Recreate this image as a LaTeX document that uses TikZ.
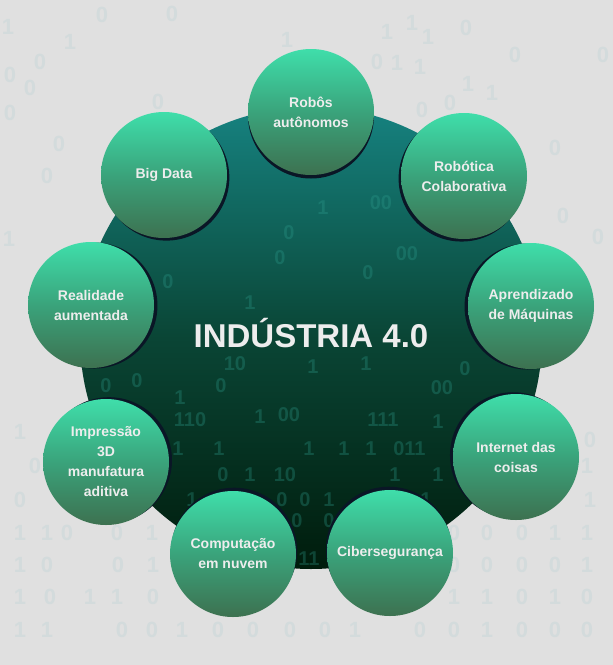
\documentclass[tikz,border=0pt]{standalone}
\usepackage{fontspec}
\setmainfont{Liberation Sans}
\usetikzlibrary{calc}
\definecolor{bg}{HTML}{E0E0E0}
\definecolor{bgdigit}{HTML}{D3DBDC}
\definecolor{hubtop}{HTML}{168280}
\definecolor{hubmid}{HTML}{0A4535}
\definecolor{hubbot}{HTML}{001C0C}
\definecolor{hubdigit}{HTML}{2FA090}
\definecolor{bubtop}{HTML}{3FDEAA}
\definecolor{bubmid}{HTML}{3AA37B}
\definecolor{bubbot}{HTML}{3D7150}
\definecolor{shad}{HTML}{0A1626}
\definecolor{txt}{HTML}{EDEDED}
\begin{document}
\begin{tikzpicture}[x=1pt,y=-1pt,
  bubble/.style={circle, minimum size=126pt, inner sep=0pt, top color=bubtop,
    bottom color=bubbot, middle color=bubmid, text=txt, align=center,
    font=\bfseries\fontsize{14}{20}\selectfont},
  hub/.style={circle, minimum size=462pt, inner sep=0pt, top color=hubtop,
    bottom color=hubbot, middle color=hubmid},
  bgd/.style={inner sep=0pt, text=bgdigit, font=\bfseries\fontsize{22}{22}\selectfont},
  hubd/.style={inner sep=0pt, text=hubdigit, text opacity=0.3, font=\bfseries\fontsize{20}{20}\selectfont},
  title/.style={inner sep=0pt, text=txt, font=\bfseries\fontsize{33}{40}\selectfont},
  shadowfill/.style={fill=shad}]
\path[use as bounding box, fill=bg] (0,0) rectangle (613,665);
% faint background digits
\foreach \d/\x/\y [count=\i] in {1/8/27,0/102/15,0/172/14,1/70/42,0/40/62,0/10/75,0/30/88,
  1/287/40,1/387/32,1/412/23,1/428/37,0/466/28,0/377/62,1/397/63,1/420/67,1/323/68,
  0/358/92,0/450/103,1/468/84,0/515/55,1/492/93,0/422/110,0/158/102,0/10/113,
  0/47/176,0/59/144,1/9/239,0/598/237,0/563/216,0/555/148,0/603/55,
  0/35/466,1/20/432,0/20/500,0/590/440,1/587/466,1/590/500,
  1/20/533,1/47/533,0/67/533,0/117/533,1/152/533,0/454/533,0/487/533,0/522/533,1/555/533,1/587/533,
  1/20/565,0/47/565,0/118/565,1/153/565,0/454/565,0/487/565,0/522/565,0/555/565,1/587/565,
  1/20/597,0/50/597,1/90/597,1/117/597,0/153/597,1/454/597,1/487/597,0/522/597,1/555/597,0/587/597,
  1/20/630,1/47/630,0/122/630,0/152/630,1/182/630,0/218/630,0/253/630,0/290/630,0/325/630,1/355/630,
  0/420/630,0/454/630,1/487/630,0/522/630,0/555/630,0/587/630}
  \node[bgd] (g\i) at (\x,\y) {\d};
% central hub
\node[hub] (O) at (311,338) {};
\foreach \d/\x/\y [count=\i] in {0/289/233,0/280/258,1/323/208,00/381/203,0/368/273,00/407/254,
  1/250/303,0/168/282,10/235/364,1/313/367,1/366/364,0/465/369,00/442/388,0/221/386,
  0/137/381,0/106/386,1/180/398,110/190/420,1/260/417,00/289/415,111/383/420,1/438/422,
  1/178/449,1/219/449,1/309/449,1/344/449,1/371/449,0/399/449,11/415/449,
  0/223/475,1/250/475,10/285/475,1/395/475,1/438/475,
  1/192/500,0/282/500,0/305/500,1/329/500,1/426/500,0/297/521,0/329/521,11/309/559}
  \node[hubd] (h\i) at (\x,\y) {\d};
\node[title] (t) at (311,333) {INDÚSTRIA 4.0};
% bubbles
\foreach \n/\x/\y/\t in {1/311/112/{Robôs\\autônomos},
  2/464/176/{Robótica\\Colaborativa},
  3/531/306/{Aprendizado\\de Máquinas},
  4/516/457/{Internet das\\coisas},
  5/390/553/{Cibersegurança},
  6/233/554/{Computação\\em nuvem},
  7/106/462/{Impressão\\3D\\manufatura\\aditiva},
  8/91/305/{Realidade\\aumentada},
  9/164/175/{Big Data}}{
  \coordinate (p\n) at (\x,\y);
  \fill[shadowfill] ($(p\n)!3.5pt!(O.center)$) circle[radius=63pt];
  \node[bubble] (b\n) at (p\n) {\t};
}
\end{tikzpicture}
\end{document}
